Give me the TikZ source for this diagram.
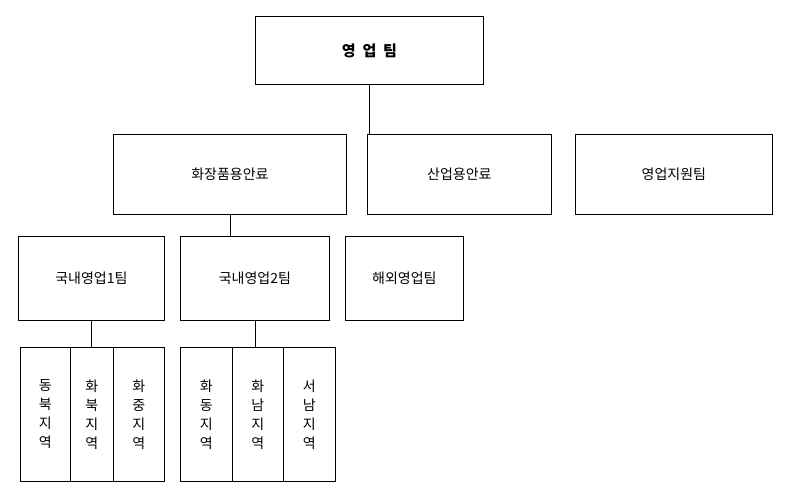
\documentclass[tikz,border=0pt]{standalone}
\usepackage{fontspec}
\setmainfont{Noto Sans CJK KR}
\begin{document}
\begin{tikzpicture}[x=1pt,y=-1pt,
  box/.style={draw,line width=0.8pt,inner sep=0pt,anchor=north west,font=\fontsize{14}{16}\selectfont},
  vbox/.style={box,align=center,font=\fontsize{14}{19}\selectfont}]
\useasboundingbox (0,0) rectangle (787,488);
\node[box,minimum width=228pt,minimum height=68pt,font=\fontsize{15}{16}\selectfont\bfseries] (top) at (255,16) {영\ \ 업\ \ 팀};
\node[box,minimum width=233pt,minimum height=80pt] (cos) at (113,134) {화장품용안료};
\node[box,minimum width=184pt,minimum height=80pt] (ind) at (367,134) {산업용안료};
\node[box,minimum width=197pt,minimum height=80pt] (sup) at (575,134) {영업지원팀};
\node[box,minimum width=146pt,minimum height=84pt] (d1) at (18,236) {국내영업1팀};
\node[box,minimum width=149pt,minimum height=84pt] (d2) at (180,236) {국내영업2팀};
\node[box,minimum width=118pt,minimum height=84pt] (ov) at (345,236) {해외영업팀};
\node[vbox,minimum width=50pt,minimum height=134pt] (a1) at (20,347) {동\\북\\지\\역};
\node[vbox,minimum width=43pt,minimum height=134pt] (a2) at (70,347) {화\\북\\지\\역};
\node[vbox,minimum width=51pt,minimum height=134pt] (a3) at (113,347) {화\\중\\지\\역};
\node[vbox,minimum width=52pt,minimum height=134pt] (b1) at (180,347) {화\\동\\지\\역};
\node[vbox,minimum width=51pt,minimum height=134pt] (b2) at (232,347) {화\\남\\지\\역};
\node[vbox,minimum width=52pt,minimum height=134pt] (b3) at (283,347) {서\\남\\지\\역};
\draw[line width=0.8pt] (top.south) -- (top.south |- cos.north);
\draw[line width=0.8pt] (cos.south) -- (cos.south |- d2.north);
\draw[line width=0.8pt] (d1.south) -- (d1.south |- a2.north);
\draw[line width=0.8pt] (d2.south) -- (d2.south |- b2.north);
\end{tikzpicture}
\end{document}
